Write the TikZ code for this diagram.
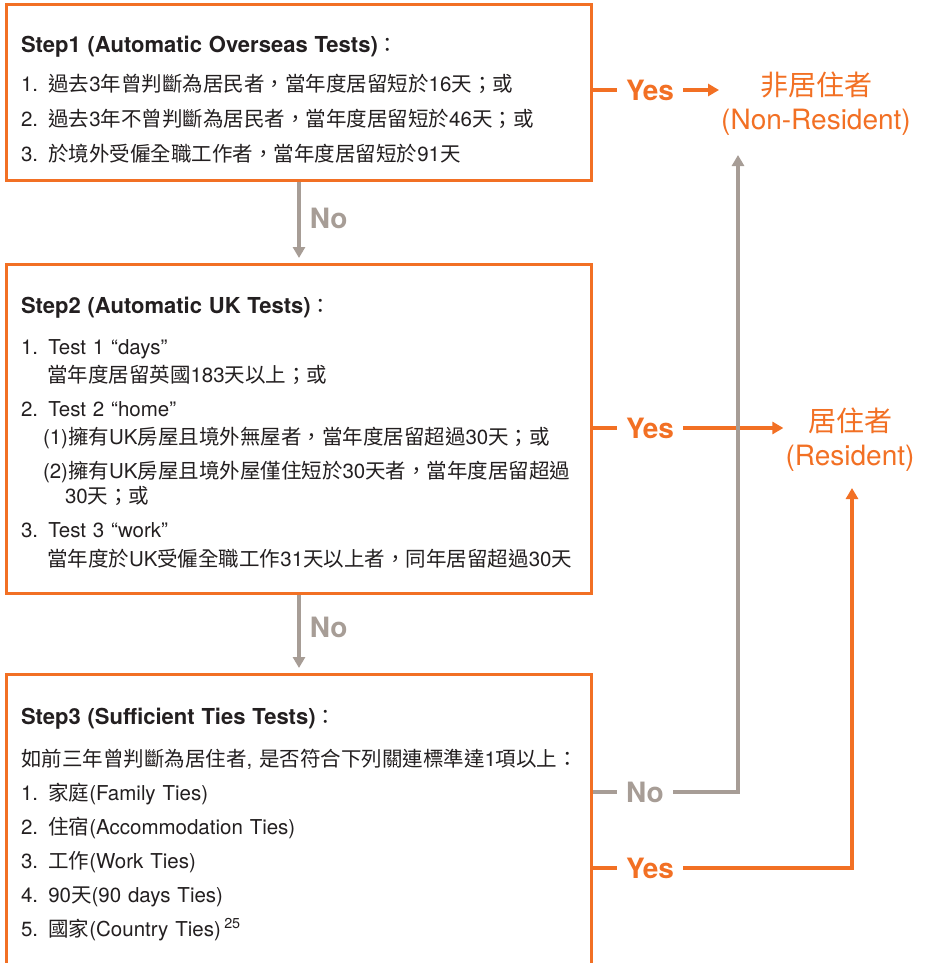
\documentclass[tikz,border=0pt]{standalone}
\usepackage{fontspec}
\setmainfont{TeX Gyre Heros}
\newfontfamily\cjk{Noto Sans CJK TC}
\usetikzlibrary{positioning, arrows.meta}
\newcommand\zh[1]{{\cjk #1}}
\newcommand\stephead[1]{{\fontsize{22}{28}\selectfont\bfseries #1}}
\definecolor{srtorange}{RGB}{242,112,36}
\definecolor{srtgray}{RGB}{167,157,150}
\definecolor{srttext}{RGB}{35,31,32}

\begin{document}
\begin{tikzpicture}[
    x=1pt, y=1pt,
    >={Triangle[length=11pt, width=12pt]},
    stepbox/.style={
        draw=srtorange,
        line width=3pt,
        minimum width=585pt,
        text width=556pt,
        inner xsep=14.5pt,
        align=left,
        text=srttext,
        font=\fontsize{20.5}{28}\selectfont
    },
    result/.style={text=srtorange, align=center, inner sep=2pt,
        font=\fontsize{28}{34}\selectfont},
    yeslbl/.style={text=srtorange, inner xsep=9pt, inner ysep=0pt,
        font=\bfseries\fontsize{28}{28}\selectfont},
    nolbl/.style={yeslbl, text=srtgray},
    yesline/.style={draw=srtorange, line width=3.5pt},
    noline/.style={draw=srtgray, line width=3.5pt}
]
\useasboundingbox (0,0) rectangle (924,-963);

%% -- Steps ---------------------------------------------------------------
\node[stepbox, minimum height=176pt, anchor=north west] (step1) at (5,-3)
    {\rule{0pt}{31pt}\stephead{Step1 (Automatic Overseas Tests)}\zh{：}\\[11pt]
     1. \zh{過去}3\zh{年曾判斷為居民者，當年度居留短於}16\zh{天；或}\\[7pt]
     2. \zh{過去}3\zh{年不曾判斷為居民者，當年度居留短於}46\zh{天；或}\\[7pt]
     3. \zh{於境外受僱全職工作者，當年度居留短於}91\zh{天}};

\node[stepbox, minimum height=329pt, below=81pt of step1] (step2)
    {\rule{0pt}{24pt}\stephead{Step2 (Automatic UK Tests)}\zh{：}\\[13pt]
     1. Test 1 “days”\\
     \hspace*{26pt}\zh{當年度居留英國}183\zh{天以上；或}\\[6pt]
     2. Test 2 “home”\\
     \hspace*{22pt}(1)\zh{擁有}UK\zh{房屋且境外無屋者，當年度居留超過}30\zh{天；或}\\[6pt]
     \hspace*{22pt}(2)\zh{擁有}UK\zh{房屋且境外屋僅住短於}30\zh{天者，當年度居留超過}\\[-3pt]
     \hspace*{44pt}30\zh{天；或}\\[6pt]
     3. Test 3 “work”\\[1pt]
     \hspace*{26pt}\zh{當年度於}UK\zh{受僱全職工作}31\zh{天以上者，同年居留超過}30\zh{天}};

\node[stepbox, minimum height=300pt, below=78pt of step2] (step3)
    {\stephead{Step3 (Sufficient Ties Tests)}\zh{：}\\[14pt]
     \zh{如前三年曾判斷為居住者},~\zh{是否符合下列關連標準達}1\zh{項以上：}\\[6pt]
     1. \zh{家庭}(Family Ties)\\[6pt]
     2. \zh{住宿}(Accommodation Ties)\\[6pt]
     3. \zh{工作}(Work Ties)\\[6pt]
     4. 90\zh{天}(90 days Ties)\\[6pt]
     5. \zh{國家}(Country Ties)\,\textsuperscript{25}};

%% -- Results -------------------------------------------------------------
\node[result] (nonres) at (816,-104) {\zh{非居住者}\\(Non-Resident)};
\node[result] (res) at (850,-440) {\zh{居住者}\\(Resident)};

\coordinate (nonresin) at (738,-155);
\coordinate (resin) at (852,-488);

%% -- Labels --------------------------------------------------------------
\node[yeslbl] (yes1) at (650,-90) {Yes};
\node[yeslbl] (yes2) at (650,-428) {Yes};
\node[nolbl] (no3) at (645,-792) {No};
\node[yeslbl] (yes3) at (650,-868) {Yes};

%% -- Step -> Step --------------------------------------------------------
\draw[noline, ->, shorten >=5pt] (step1) -- (step2)
    node[pos=0.45, right=0pt, nolbl] (no1) {No};
\draw[noline, ->, shorten >=5pt] (step2) -- (step3)
    node[pos=0.42, right=0pt, nolbl] (no2) {No};

%% -- Yes branches --------------------------------------------------------
\draw[yesline] (step1.east |- yes1) -- (yes1.west);
\draw[yesline, ->] (yes1.east) -- (yes1.east -| nonres.west);

\draw[yesline] (step2.east |- yes2) -- (yes2.west);
\draw[yesline, ->] (yes2.east) -- (yes2.east -| res.west);

\draw[yesline] (step3.east |- yes3) -- (yes3.west);
\draw[yesline, ->] (yes3.east) -| (resin);

%% -- Step3 No -> Non-Resident --------------------------------------------
\draw[noline] (step3.east |- no3) -- (no3.west);
\draw[noline, ->] (no3.east) -| (nonresin);

\end{tikzpicture}
\end{document}
